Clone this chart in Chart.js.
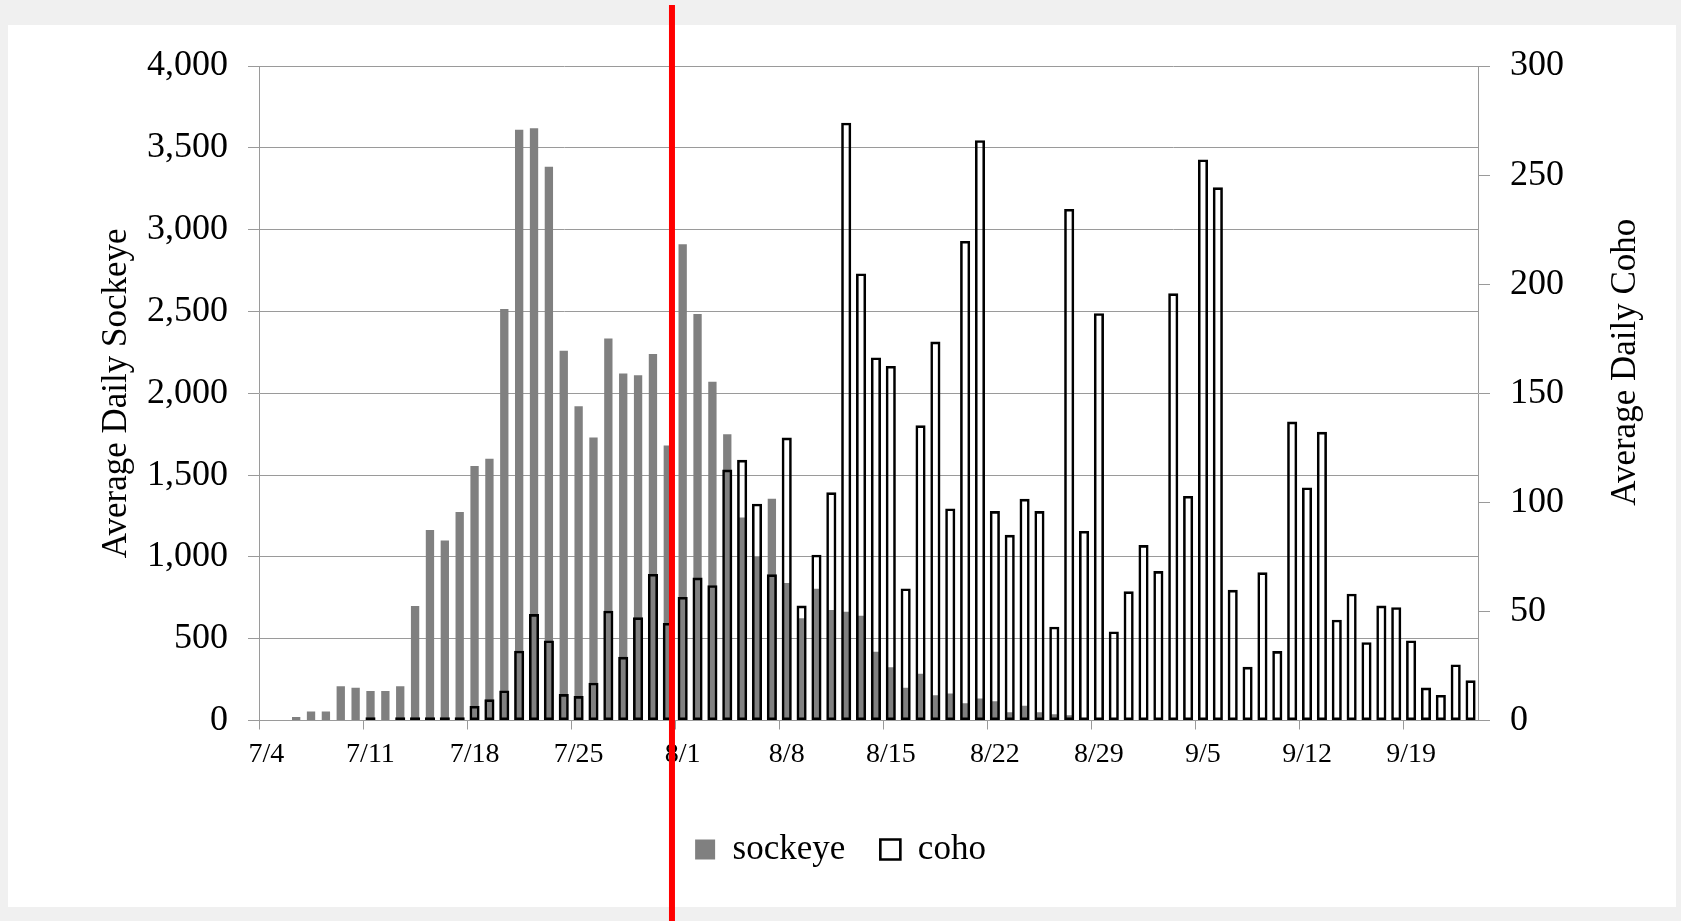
<!DOCTYPE html>
<html>
<head>
<meta charset="utf-8">
<title>Average daily sockeye and coho</title>
<script src="https://cdn.jsdelivr.net/npm/chart.js@4.4.0/dist/chart.umd.min.js"></script>
<style>
    html, body { margin: 0; padding: 0; background: #f0f0f0; overflow: hidden; }
    #panel { position: absolute; left: 8px; top: 25px; width: 1668px; height: 882px; background: #fff; }
    #wrap { position: absolute; left: 0; top: 0; width: 1681px; height: 921px; }
</style>
</head>
<body>
<div id="panel"></div>
<div id="wrap"><canvas id="fishChart"></canvas></div>
<script>
const days = [
    '7/4', '7/5', '7/6', '7/7', '7/8', '7/9', '7/10',
    '7/11', '7/12', '7/13', '7/14', '7/15', '7/16', '7/17',
    '7/18', '7/19', '7/20', '7/21', '7/22', '7/23', '7/24',
    '7/25', '7/26', '7/27', '7/28', '7/29', '7/30', '7/31',
    '8/1', '8/2', '8/3', '8/4', '8/5', '8/6', '8/7',
    '8/8', '8/9', '8/10', '8/11', '8/12', '8/13', '8/14',
    '8/15', '8/16', '8/17', '8/18', '8/19', '8/20', '8/21',
    '8/22', '8/23', '8/24', '8/25', '8/26', '8/27', '8/28',
    '8/29', '8/30', '8/31', '9/1', '9/2', '9/3', '9/4',
    '9/5', '9/6', '9/7', '9/8', '9/9', '9/10', '9/11',
    '9/12', '9/13', '9/14', '9/15', '9/16', '9/17', '9/18',
    '9/19', '9/20', '9/21', '9/22', '9/23'
]

const tickDates = ['7/4', '7/11', '7/18', '7/25', '8/1', '8/8', '8/15', '8/22', '8/29', '9/5', '9/12', '9/19']

const sockeye = [
    0, 0, 22, 55, 55, 210, 200,
    180, 180, 210, 700, 1165, 1100, 1275,
    1555, 1600, 2515, 3610, 3620, 3385, 2260,
    1920, 1730, 2335, 2120, 2110, 2240, 1680,
    2910, 2485, 2070, 1750, 1240, 1000, 1355,
    840, 625, 805, 675, 665, 640, 420,
    325, 200, 285, 155, 165, 105, 135,
    118, 50, 90, 50, 38, 32, 10,
    5, 0, 0, 0, 0, 0, 0,
    0, 0, 0, 0, 0, 0, 0,
    0, 0, 0, 0, 0, 0, 0,
    0, 0, 0, 0, 0
]

const coho = [
    0, 0, 0, 0, 0, 0, 0,
    1.5, 0, 1.5, 1.5, 1.5, 1.5, 1.5,
    6.7, 9.7, 13.8, 32, 48.8, 36.7, 12.1,
    11.2, 17.3, 50.3, 29.2, 47.3, 67.2, 44.7,
    56.6, 65.5, 62, 115, 119.5, 99.4, 67,
    129.7, 52.7, 76, 104.6, 274, 204.9, 166.4,
    162.5, 60.5, 135.3, 173.7, 97.2, 219.8, 266,
    96, 85.1, 101.6, 96, 43, 234.5, 86.9,
    186.7, 40.8, 59.2, 80.4, 68.5, 195.8, 102.9,
    257.2, 244.4, 59.9, 24.6, 67.9, 31.8, 137,
    106.8, 132.3, 46.2, 58.1, 35.9, 52.7, 51.9,
    36.7, 15.1, 11.7, 25.7, 18.4
]

// the red marker sits a little after the middle of 7/31
const cutoffDay = '7/31'
const cutoffShift = 0.28

const gridGray = '#9a9a9a'
const serif = "'Liberation Serif', 'Times New Roman', serif"

Chart.defaults.font.family = serif
Chart.defaults.color = '#000'

const axisTitles = {
    id: 'axisTitles',
    afterDraw(chart) {
        const { ctx, chartArea } = chart
        const midY = (chartArea.top + chartArea.bottom) / 2
        ctx.save()
        ctx.font = '35px ' + serif
        ctx.fillStyle = '#000'
        ctx.textAlign = 'center'
        ctx.textBaseline = 'middle'

        ctx.translate(117, midY)
        ctx.rotate(-Math.PI / 2)
        ctx.fillText('Average Daily Sockeye', 0, 0)
        ctx.restore()

        ctx.save()
        ctx.font = '35px ' + serif
        ctx.fillStyle = '#000'
        ctx.textAlign = 'center'
        ctx.textBaseline = 'middle'
        ctx.translate(1626, midY - 31)
        ctx.rotate(-Math.PI / 2)
        ctx.fillText('Average Daily Coho', 0, 0)
        ctx.restore()
    }
}

const cutoffLine = {
    id: 'cutoffLine',
    afterDraw(chart) {
        const x = chart.scales.x.getPixelForValue(days.indexOf(cutoffDay) + cutoffShift)
        const ctx = chart.ctx
        ctx.save()
        ctx.strokeStyle = '#ff0000'
        ctx.lineWidth = 6
        ctx.beginPath()
        ctx.moveTo(x, 5)
        ctx.lineTo(x, chart.height)
        ctx.stroke()
        ctx.restore()
    }
}

function createChart() {
    const ctx = document.getElementById('fishChart').getContext('2d')

    new Chart(ctx, {
        type: 'bar',
        data: {
            labels: days,
            datasets: [{
                label: 'sockeye',
                data: sockeye,
                yAxisID: 'ySock',
                backgroundColor: '#808080',
                borderWidth: 0,
                barPercentage: 0.56,
                categoryPercentage: 1,
                grouped: false,
                order: 2
            }, {
                label: 'coho',
                data: coho,
                yAxisID: 'yCoho',
                backgroundColor: 'rgba(255, 255, 255, 0)',
                borderColor: '#000',
                borderWidth: 2.6,
                borderSkipped: false,
                barPercentage: 0.68,
                categoryPercentage: 1,
                grouped: false,
                order: 1
            }]
        },
        options: {
            responsive: true,
            maintainAspectRatio: false,
            animation: false,
            layout: {
                padding: { top: 66, bottom: 44, left: 0, right: 0 }
            },
            plugins: {
                tooltip: { enabled: false },
                legend: {
                    position: 'bottom',
                    labels: {
                        boxWidth: 20,
                        boxHeight: 20,
                        padding: 35,
                        color: '#000',
                        font: { size: 35 },
                        sort: (a, b) => a.datasetIndex - b.datasetIndex
                    }
                }
            },
            scales: {
                x: {
                    offset: true,
                    grid: {
                        offset: true,
                        drawOnChartArea: false,
                        tickLength: 9,
                        color: c => tickDates.includes(days[c.index]) ? gridGray : 'rgba(0, 0, 0, 0)'
                    },
                    border: { color: gridGray, width: 1 },
                    ticks: {
                        autoSkip: false,
                        maxRotation: 0,
                        minRotation: 0,
                        padding: 8,
                        font: { size: 28 },
                        callback: (value, index) => tickDates.includes(days[index]) ? days[index] : ''
                    },
                    afterFit: scale => { scale.height = 76.5 }
                },
                ySock: {
                    position: 'left',
                    min: 0,
                    max: 4000,
                    grid: { color: gridGray, tickLength: 11 },
                    border: { color: gridGray },
                    ticks: {
                        stepSize: 500,
                        padding: 20,
                        font: { size: 36 },
                        callback: value => value.toLocaleString('en-US')
                    },
                    afterFit: scale => { scale.width = 259 }
                },
                yCoho: {
                    position: 'right',
                    min: 0,
                    max: 300,
                    grid: { drawOnChartArea: false, color: gridGray, tickLength: 12 },
                    border: { color: gridGray },
                    ticks: {
                        stepSize: 50,
                        padding: 20,
                        font: { size: 36 }
                    },
                    afterFit: scale => { scale.width = 203 }
                }
            }
        },
        plugins: [axisTitles, cutoffLine]
    })
}

createChart()
</script>
</body>
</html>
